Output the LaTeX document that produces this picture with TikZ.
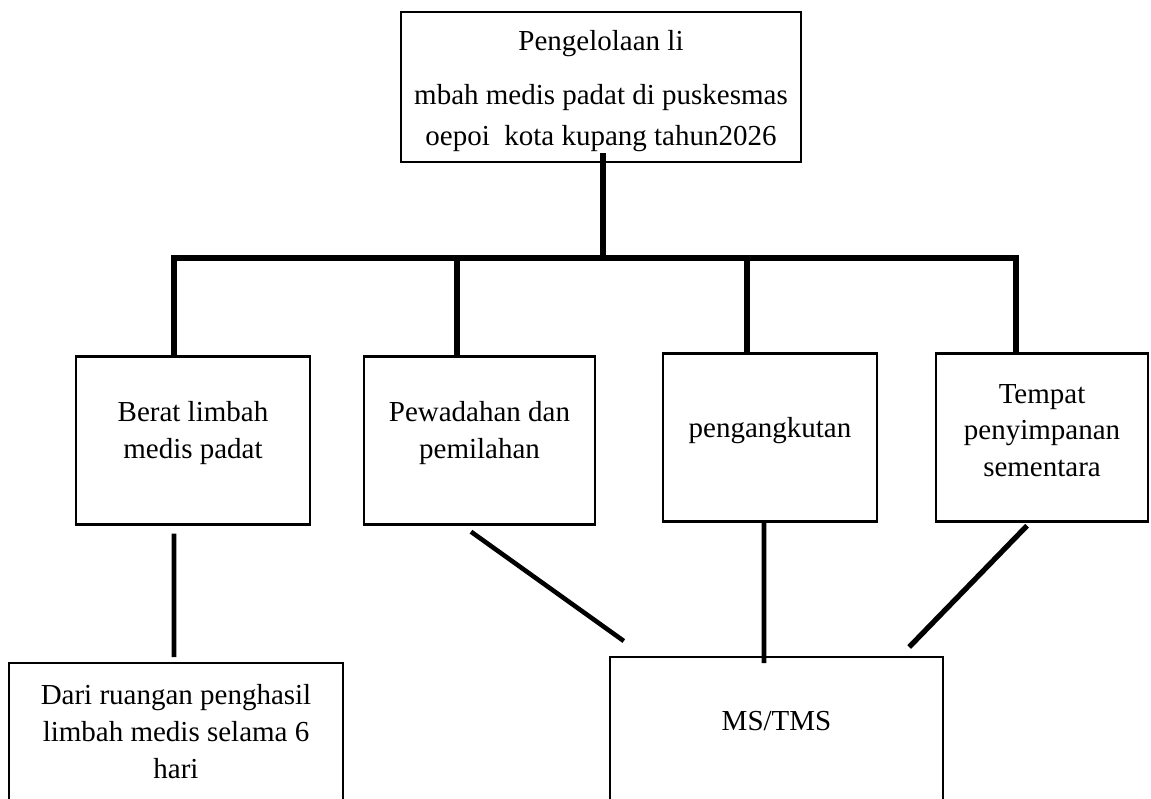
\documentclass[tikz,border=0pt]{standalone}
\usepackage{fontspec}
\setmainfont{Liberation Serif}
\usetikzlibrary{positioning}
\tikzstyle{topic} = [rectangle, minimum width=8cm, minimum height=3cm, align=flush center, text width=7.8cm, inner xsep=0pt, draw=black, line width=1.4pt, font=\fontsize{16.5}{23}\selectfont]
\tikzstyle{aspect} = [rectangle, minimum height=3.36cm, align=flush center, text width=4cm, draw=black, line width=1.4pt, font=\fontsize{16.5}{21}\selectfont]
\tikzstyle{result} = [rectangle, anchor=north, minimum height=3.2cm, align=flush center, text width=6.2cm, draw=black, line width=1.4pt, font=\fontsize{16.5}{21}\selectfont]
\tikzstyle{bus} = [line width=3.4pt]
\tikzstyle{link} = [line width=2.6pt]

\begin{document}
\begin{tikzpicture}[x=0.02cm, y=-0.02cm]
\useasboundingbox (0,0) rectangle (1151,798);
\clip (0,0) rectangle (1151,798);

\node (Pengelolaan)[topic, text height=16pt] at (601,87) {Pengelolaan li\\[8pt]mbah medis padat di puskesmas\\oepoi\ \ kota kupang tahun2026};

\node (Berat)[aspect, minimum width=4.68cm, text depth=32.6pt] at (193,440.5) {Berat limbah\\medis padat};
\node (Pewadahan)[aspect, minimum width=4.62cm, text depth=32.6pt] at (479.5,440.5) {Pewadahan dan\\pemilahan};
\node (Pengangkutan)[aspect, minimum width=4.28cm, text depth=11.6pt] at (770,437.5) {pengangkutan};
\node (Tempat)[aspect, minimum width=4.24cm, text depth=50pt] at (1042,437.5) {Tempat\\penyimpanan\\sementara};

\node (DariRuangan)[result, minimum width=6.68cm, minimum height=2.9cm, text depth=46.5pt] at (176,662) {Dari ruangan penghasil\\limbah medis selama 6\\hari};
\node (MSTMS)[result, minimum width=6.66cm, minimum height=3.4cm, text depth=24pt] at (776.5,656) {MS/TMS};

% tree from the title box
\coordinate (Hub) at (603,258);
\coordinate (BeratTop) at ([xshift=-0.38cm]Berat.north);
\coordinate (PewadahanTop) at ([xshift=-0.45cm]Pewadahan.north);
\coordinate (PengangkutanTop) at ([xshift=-0.46cm]Pengangkutan.north);
\coordinate (TempatTop) at ([xshift=-0.52cm]Tempat.north);
\draw [bus]([xshift=0.04cm,yshift=0.2cm]Pengelolaan.south) -- (Hub);
\draw [bus](BeratTop) |- (Hub) -| (TempatTop);
\draw [bus](PewadahanTop) -- (PewadahanTop |- Hub);
\draw [bus](PengangkutanTop) -- (PengangkutanTop |- Hub);

% links below
\draw [link]([xshift=-0.38cm,yshift=-0.16cm]Berat.south) -- ([xshift=-0.04cm,yshift=0.1cm]DariRuangan.north);
\draw [link]([xshift=-0.17cm,yshift=-0.12cm]Pewadahan.south) -- ([xshift=0.3cm,yshift=0.3cm]MSTMS.north west);
\draw [link]([xshift=-0.12cm]Pengangkutan.south) -- ([xshift=-0.25cm,yshift=-0.14cm]MSTMS.north);
\draw [link, line width=3pt]([xshift=-0.3cm,yshift=-0.06cm]Tempat.south) -- ([xshift=-0.7cm,yshift=0.18cm]MSTMS.north east);
\end{tikzpicture}
\end{document}
